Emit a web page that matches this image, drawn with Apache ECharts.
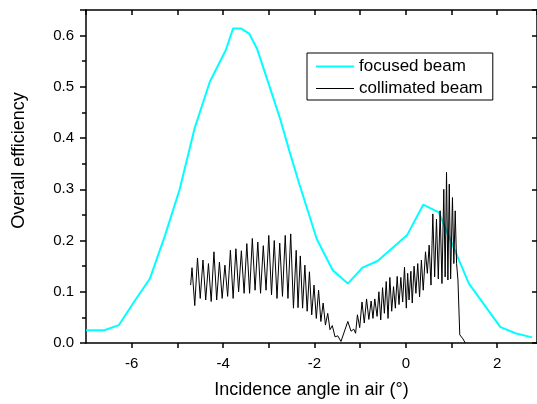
<!DOCTYPE html>
<html>
<head>
<meta charset="utf-8">
<script src="https://cdn.jsdelivr.net/npm/echarts@6/dist/echarts.min.js"></script>
<style>html,body{margin:0;padding:0;background:#fff;}#c{width:537px;height:404px;}</style>
</head>
<body>
<div id="c"></div>
<script>
// ---- data ----
var xTickLabels = ['-6', '-4', '-2', '0', '2'];
var yTickLabels = ['0.0', '0.1', '0.2', '0.3', '0.4', '0.5', '0.6'];
var seriesNames = ['focused beam', 'collimated beam'];

var focusedBeam = [
  [-7.0,0.025],[-6.6,0.025],[-6.28,0.035],[-5.95,0.080],[-5.6,0.126],[-5.27,0.21],
  [-4.95,0.30],[-4.62,0.42],[-4.29,0.51],[-3.94,0.572],[-3.78,0.614],[-3.61,0.614],
  [-3.43,0.604],[-3.26,0.575],[-2.98,0.50],[-2.76,0.44],[-2.55,0.375],[-2.33,0.31],
  [-1.95,0.203],[-1.60,0.142],[-1.27,0.116],[-0.95,0.147],[-0.62,0.16],[0.03,0.211],
  [0.38,0.27],[0.72,0.255],[1.38,0.116],[2.07,0.031],[2.40,0.019],[2.76,0.011]
];

var collimatedA = [
  [-4.71,0.113],[-4.68,0.147],[-4.62,0.073],[-4.56,0.166],[-4.50,0.087],[-4.44,0.162],
  [-4.38,0.084],[-4.32,0.155],[-4.26,0.081],[-4.20,0.178],[-4.14,0.084],[-4.08,0.158],
  [-4.02,0.087],[-3.96,0.152],[-3.90,0.091],[-3.84,0.181],[-3.78,0.087],[-3.72,0.184],
  [-3.66,0.100],[-3.60,0.180],[-3.54,0.097],[-3.48,0.194],[-3.42,0.097],[-3.36,0.204],
  [-3.30,0.103],[-3.24,0.197],[-3.18,0.097],[-3.12,0.190],[-3.06,0.103],[-3.00,0.210],
  [-2.94,0.094],[-2.88,0.200],[-2.82,0.087],[-2.76,0.195],[-2.70,0.091],[-2.64,0.210],
  [-2.58,0.087],[-2.52,0.213],[-2.46,0.068],[-2.40,0.181]
];
var collimatedB = [
  [-2.36,0.069],[-2.31,0.170],[-2.26,0.068],[-2.21,0.152],[-2.16,0.062],[-2.11,0.139],
  [-2.06,0.055],[-2.01,0.113],[-1.96,0.048],[-1.91,0.103],[-1.86,0.042],[-1.81,0.078],
  [-1.76,0.035],[-1.71,0.058],[-1.66,0.026],[-1.61,0.034],[-1.55,0.012],[-1.49,0.014],
  [-1.42,0.003],[-1.27,0.042],[-1.20,0.023],[-1.14,0.027],[-1.10,0.019]
];
var collimatedC = [
  [-1.06,0.055],[-1.01,0.030],[-0.96,0.080],[-0.91,0.039],[-0.86,0.086],[-0.81,0.046],
  [-0.76,0.082],[-0.72,0.048],[-0.68,0.086],[-0.63,0.052],[-0.59,0.100],[-0.55,0.045],
  [-0.51,0.108],[-0.47,0.058],[-0.43,0.120],[-0.39,0.048],[-0.35,0.128],[-0.31,0.062],
  [-0.27,0.110],[-0.23,0.068],[-0.19,0.130],[-0.15,0.075],[-0.11,0.128],[-0.07,0.080],
  [-0.03,0.148],[0.01,0.068]
];
var collimatedD = [
  [0.04,0.136],[0.07,0.084],[0.11,0.140],[0.14,0.078],[0.18,0.150],[0.22,0.097],
  [0.26,0.155],[0.30,0.090],[0.34,0.162],[0.38,0.103],[0.43,0.178],[0.47,0.136],
  [0.51,0.191],[0.55,0.113],[0.59,0.252],[0.63,0.129],[0.67,0.242],[0.71,0.125],
  [0.75,0.258],[0.79,0.116],[0.83,0.300],[0.86,0.129],[0.89,0.333],[0.92,0.123],
  [0.95,0.310],[0.98,0.125],[1.02,0.284],[1.05,0.155],[1.08,0.258],[1.11,0.155],
  [1.14,0.123],[1.18,0.016],[1.25,0.008],[1.30,0.0]
];
var collimatedBeam = collimatedA.concat(collimatedB, collimatedC, collimatedD);

// ---- chart ----
var FONT = '"Liberation Sans", Arial, sans-serif';
var chart = echarts.init(document.getElementById('c'), null, {renderer: 'canvas'});
var axisLineStyle = {color: '#000', width: 1.5};
var tickStyle = {color: '#000', width: 1.5};

chart.setOption({
  animation: false,
  backgroundColor: '#fff',
  grid: {left: 86, right: -1, top: 10, bottom: 59},
  legend: {
    data: [
      {name: seriesNames[0], icon: 'path://M0,0H38V2H0Z'},
      {name: seriesNames[1], icon: 'path://M0,0H38V1H0Z'}
    ],
    orient: 'vertical',
    left: 307, top: 53,
    itemWidth: 38, itemHeight: 14, itemGap: 5,
    borderColor: '#000', borderWidth: 1,
    padding: [5, 10, 3, 9],
    textStyle: {fontFamily: FONT, fontSize: 17, color: '#000'}
  },
  xAxis: [{
    type: 'value', position: 'bottom', min: -7, max: 2.87, interval: 1,
    name: 'Incidence angle in air (°)', nameLocation: 'middle', nameGap: 38,
    nameTextStyle: {fontFamily: FONT, fontSize: 18, color: '#000'},
    axisLine: {onZero: false, lineStyle: axisLineStyle},
    axisTick: {show: true, inside: false, length: 5, lineStyle: tickStyle},
    axisLabel: {
      fontFamily: FONT, fontSize: 15, color: '#000', margin: 13,
      showMaxLabel: false, showMinLabel: false,
      formatter: function (v) {
        var s = String(Math.round(v));
        return (Math.abs(v - Math.round(v)) < 1e-6 && xTickLabels.indexOf(s) >= 0) ? s : '';
      }
    },
    splitLine: {show: false}
  }, {
    type: 'value', position: 'top', min: -7, max: 2.87, interval: 1,
    axisLine: {onZero: false, lineStyle: axisLineStyle},
    axisTick: {show: true, inside: true, length: 5, lineStyle: tickStyle},
    axisLabel: {show: false},
    splitLine: {show: false}
  }],
  yAxis: [{
    type: 'value', position: 'left', min: 0, max: 0.65, interval: 0.1,
    name: 'Overall efficiency', nameLocation: 'middle', nameGap: 58,
    nameTextStyle: {fontFamily: FONT, fontSize: 18, color: '#000', padding: [0, 0, 0, 32]},
    axisLine: {show: true, onZero: false, lineStyle: axisLineStyle},
    axisTick: {show: true, inside: false, length: 6, lineStyle: tickStyle},
    minorTick: {show: true, splitNumber: 2, length: 4, lineStyle: tickStyle},
    axisLabel: {
      fontFamily: FONT, fontSize: 15, color: '#000', margin: 12,
      showMaxLabel: false,
      formatter: function (v) {
        var s = v.toFixed(1);
        return (Math.abs(v * 10 - Math.round(v * 10)) < 1e-6 && yTickLabels.indexOf(s) >= 0) ? s : '';
      }
    },
    splitLine: {show: false}
  }, {
    type: 'value', position: 'right', min: 0, max: 0.65, interval: 0.1,
    axisLine: {show: true, onZero: false, lineStyle: axisLineStyle},
    axisTick: {show: true, inside: true, length: 5, lineStyle: tickStyle},
    axisLabel: {show: false},
    splitLine: {show: false}
  }],
  series: [{
    name: seriesNames[0], type: 'line', data: focusedBeam,
    xAxisIndex: 0, yAxisIndex: 0,
    symbol: 'none', smooth: false,
    lineStyle: {color: '#00ffff', width: 2},
    itemStyle: {color: '#00ffff'}
  }, {
    name: seriesNames[1], type: 'line', data: collimatedBeam,
    xAxisIndex: 0, yAxisIndex: 0,
    symbol: 'none', smooth: false,
    lineStyle: {color: '#000', width: 1},
    itemStyle: {color: '#000'}
  }]
});
</script>
</body>
</html>
